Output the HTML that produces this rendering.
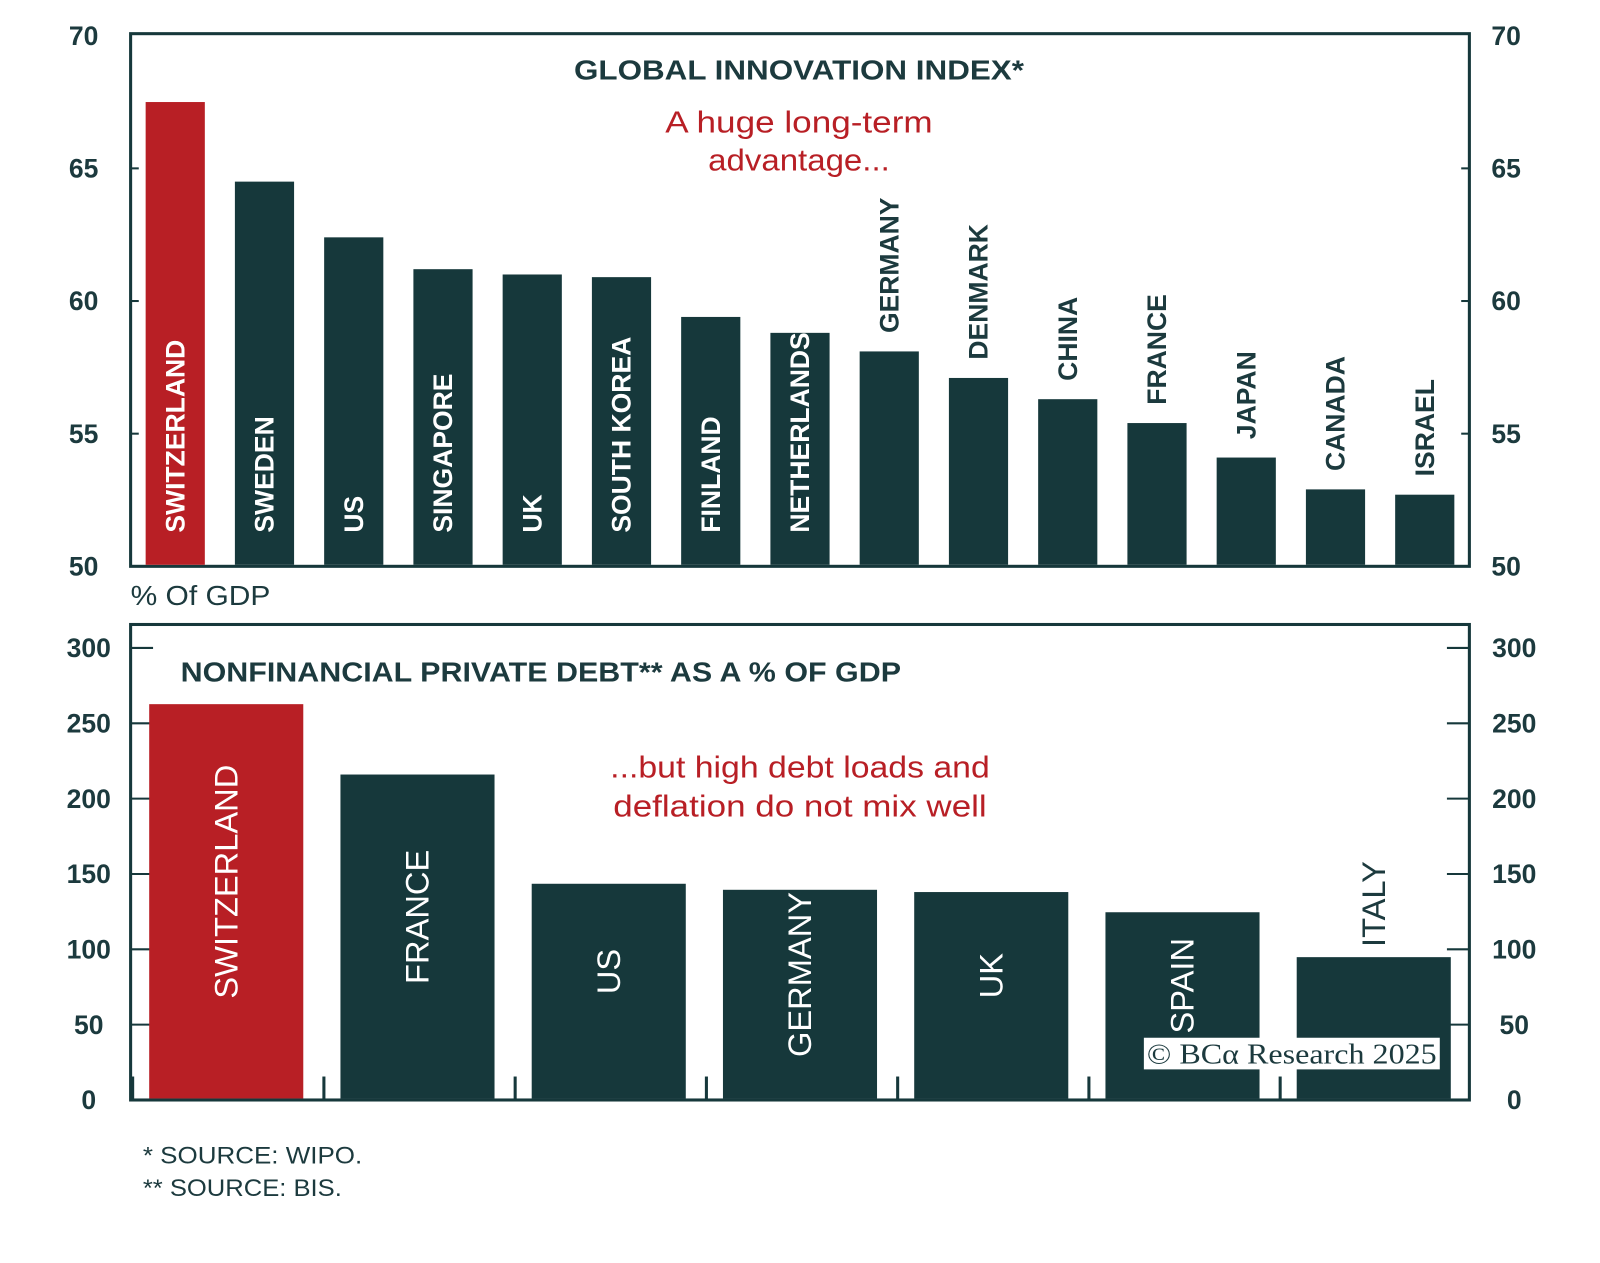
<!DOCTYPE html>
<html><head><meta charset="utf-8"><style>
html,body{margin:0;padding:0;background:#fff;width:1600px;height:1263px;overflow:hidden}
svg{display:block;font-family:"Liberation Sans",sans-serif}
</style></head><body>
<svg id="chart" width="1600" height="1263" viewBox="0 0 1600 1263"><g id="root" transform="scale(1.0204)"></g></svg>
<script>
const topCats=["SWITZERLAND","SWEDEN","US","SINGAPORE","UK","SOUTH KOREA","FINLAND","NETHERLANDS","GERMANY","DENMARK","CHINA","FRANCE","JAPAN","CANADA","ISRAEL"];
const topVals=[67.5,64.5,62.4,61.2,61.0,60.9,59.4,58.8,58.1,57.1,56.3,55.4,54.1,52.9,52.7];
const topTicks=[50,55,60,65,70];
const botCats=["SWITZERLAND","FRANCE","US","GERMANY","UK","SPAIN","ITALY"];
const botVals=[262.7,216,143.5,139.5,138,124.6,94.8];
const botTicks=[0,50,100,150,200,250,300];

const DARK="#16383b",RED="#b81f25",TXT="#1c3a3e";
const svg=document.getElementById('root');
const NS="http://www.w3.org/2000/svg";
function mk(tag,at,parent){const e=document.createElementNS(NS,tag);for(const k in at)e.setAttribute(k,at[k]);(parent||svg).appendChild(e);return e;}
function txt(s,at){const e=mk('text',at);e.textContent=s;return e;}

// top panel
const tX0=128,tX1=1440,tY0=33,tY1=555;
const ty=v=>tY1-(v-50)*(tY1-35)/20;
const tStep=(tX1-tX0)/topCats.length,tW=58;
let f=mk('rect',{x:tX0,y:tY0,width:tX1-tX0,height:tY1-tY0,fill:'none',stroke:DARK,'stroke-width':3});

topTicks.forEach(t=>{
 let a=txt(t,{x:82,y:ty(t)+9,'text-anchor':'middle','font-size':26,'font-weight':'bold',fill:TXT});
 
 let b=txt(t,{x:1476,y:ty(t)+9,'text-anchor':'middle','font-size':26,'font-weight':'bold',fill:TXT});
 
 if(t>50&&t<70){let l=mk('line',{x1:tX1,x2:tX1-8,y1:ty(t),y2:ty(t),stroke:DARK,'stroke-width':2});
 
 let l2=mk('line',{x1:tX0,x2:tX0+8,y1:ty(t),y2:ty(t),stroke:DARK,'stroke-width':2});
 }
});
topCats.forEach((c,i)=>{
 const cx=tX0+tStep*(i+0.5),y=ty(topVals[i]);
 let r=mk('rect',{x:cx-tW/2,y:y,width:tW,height:tY1-1.5-y,fill:i===0?RED:DARK});
 
 let t;
 if(i<8){t=txt(c,{x:0,y:0,transform:`translate(${cx+9},522) rotate(-90)`,'font-size':26,'font-weight':'bold',fill:'#fff'});}
 else{t=txt(c,{x:0,y:0,transform:`translate(${cx+9},${y-18}) rotate(-90)`,'font-size':26,'font-weight':'bold',fill:TXT});}
 
});
let tt=txt('GLOBAL INNOVATION INDEX*',{x:783,y:78,'text-anchor':'middle','font-size':27,'font-weight':'bold',fill:TXT,textLength:441,lengthAdjust:'spacingAndGlyphs'});

let a1=txt('A huge long-term',{x:783,y:130,'text-anchor':'middle','font-size':30,fill:RED,textLength:262,lengthAdjust:'spacingAndGlyphs'});

let a2=txt('advantage...',{x:783,y:167,'text-anchor':'middle','font-size':30,fill:RED,textLength:178,lengthAdjust:'spacingAndGlyphs'});

let g=txt('% Of GDP',{x:128,y:593,'font-size':27,fill:TXT,textLength:137,lengthAdjust:'spacingAndGlyphs'});


// bottom panel
const bX0=128,bX1=1440,bY0=612,bY1=1078;
const by=v=>bY1-v*(bY1-635)/300;
const bStep=(bX1-bX0)/botCats.length,bW=151;
let f2=mk('rect',{x:bX0,y:bY0,width:bX1-bX0,height:bY1-bY0,fill:'none',stroke:DARK,'stroke-width':3});

botTicks.forEach(t=>{
 let a=txt(t,{x:87,y:by(t)+9,'text-anchor':'middle','font-size':26,'font-weight':'bold',fill:TXT});
 
 let b=txt(t,{x:1484,y:by(t)+9,'text-anchor':'middle','font-size':26,'font-weight':'bold',fill:TXT});
 
 if(t>0){let l=mk('line',{x1:bX0,x2:bX0+22,y1:by(t),y2:by(t),stroke:DARK,'stroke-width':2});
 
 let l2=mk('line',{x1:bX1,x2:bX1-22,y1:by(t),y2:by(t),stroke:DARK,'stroke-width':2});
 }
});
botCats.forEach((c,i)=>{
 const x0=bX0+bStep*i,cx=x0+bStep/2,y=by(botVals[i]);
 let tm=mk('line',{x1:x0+2,x2:x0+2,y1:bY1-23,y2:bY1,stroke:DARK,'stroke-width':3});
 
 let r=mk('rect',{x:cx-bW/2,y:y,width:bW,height:bY1-1.5-y,fill:i===0?RED:DARK});
 
 let t;
 if(i<6){t=txt(c,{x:0,y:0,transform:`translate(${cx+11},${(y+bY1)/2-20}) rotate(-90)`,'text-anchor':'middle','font-size':32,fill:'#fff'});}
 else{t=txt(c,{x:0,y:0,transform:`translate(${cx+11},${y-10}) rotate(-90)`,'font-size':32,fill:TXT});}
 
});
let bt=txt('NONFINANCIAL PRIVATE DEBT** AS A % OF GDP',{x:177,y:668,'font-size':27,'font-weight':'bold',fill:TXT,textLength:706,lengthAdjust:'spacingAndGlyphs'});

let b1=txt('...but high debt loads and',{x:784,y:762,'text-anchor':'middle','font-size':30,fill:RED,textLength:372,lengthAdjust:'spacingAndGlyphs'});

let b2=txt('deflation do not mix well',{x:784,y:800,'text-anchor':'middle','font-size':30,fill:RED,textLength:366,lengthAdjust:'spacingAndGlyphs'});

let wb=mk('rect',{x:1121,y:1017,width:290,height:31,fill:'#fff'});

let w=txt('© BCα Research 2025',{x:1124,y:1042,'font-size':28,'font-family':'Liberation Serif,serif',fill:TXT,textLength:284,lengthAdjust:'spacingAndGlyphs'});

let s1=txt('* SOURCE: WIPO.',{x:140,y:1140,'font-size':24,fill:TXT,textLength:215,lengthAdjust:'spacingAndGlyphs'});

let s2=txt('** SOURCE: BIS.',{x:140,y:1172,'font-size':24,fill:TXT,textLength:195,lengthAdjust:'spacingAndGlyphs'});

</script>
</body></html>
